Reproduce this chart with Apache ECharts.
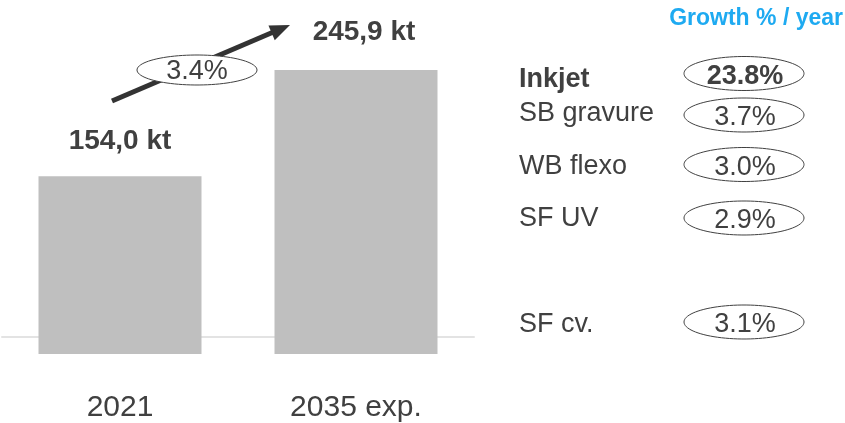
<!DOCTYPE html>
<html>
<head>
<meta charset="utf-8">
<script src="https://cdn.jsdelivr.net/npm/echarts@6/dist/echarts.min.js"></script>
<style>
  html, body { margin: 0; padding: 0; background: #fff; }
  #main { width: 845px; height: 423px; }
</style>
</head>
<body>
<div id="main"></div>
<script>
// data
var years = ['2021', '2035 exp.'];
var volumes = [154.0, 245.9];          // kt
var cagrTotal = 3.4;                   // % per year, 2021 -> 2035
var segments = ['Inkjet', 'SB gravure', 'WB flexo', 'SF UV', 'SF cv.'];
var growth = [23.8, 3.7, 3.0, 2.9, 3.1];
var highlight = [true, false, false, false, false];

// layout of the right hand panel
var labelY = [80, 114, 167, 219, 325];
var ovalY = [73.5, 115, 164.5, 218, 322];

var FONT = "'Liberation Sans', Arial, sans-serif";
var TXT = '#404040';

function fmtKt(v) {
    return v.toFixed(1).replace('.', ',') + ' kt';
}

// ellipse as polygon (graphic has no ellipse type)
function oval(cx, cy, rx, ry) {
    var pts = [];
    for (var i = 0; i < 90; i++) {
        var a = i / 90 * Math.PI * 2;
        pts.push([cx + rx * Math.cos(a), cy + ry * Math.sin(a)]);
    }
    return {
        type: 'polygon',
        shape: { points: pts },
        style: { fill: '#fff', stroke: TXT, lineWidth: 1 },
        z: 10
    };
}

function ovalText(cx, cy, str, bold) {
    return {
        type: 'text',
        x: cx, y: cy,
        style: {
            text: str,
            fill: TXT,
            font: (bold ? 'bold ' : '') + '27px ' + FONT,
            textAlign: 'center',
            textVerticalAlign: 'middle'
        },
        z: 11
    };
}

var myChart = echarts.init(document.getElementById('main'));

var graphics = [];

// arrow between the bars
var p0 = [112, 101], tip = [290, 25];
var dx = tip[0] - p0[0], dy = tip[1] - p0[1];
var len = Math.sqrt(dx * dx + dy * dy);
var ux = dx / len, uy = dy / len;
var bx = tip[0] - 20 * ux, by = tip[1] - 20 * uy;
graphics.push({
    type: 'line',
    shape: { x1: p0[0], y1: p0[1], x2: bx + 2 * ux, y2: by + 2 * uy },
    style: { stroke: '#333', lineWidth: 5 },
    z: 5
});
graphics.push({
    type: 'polygon',
    shape: { points: [tip, [bx - 8 * uy, by + 8 * ux], [bx + 8 * uy, by - 8 * ux]] },
    style: { fill: '#333' },
    z: 5
});
graphics.push(oval(197, 70, 60, 15));
graphics.push(ovalText(197, 72, cagrTotal.toFixed(1) + '%', false));

// right panel
graphics.push({
    type: 'text',
    right: 2, top: 7,
    style: {
        text: 'Growth % / year',
        fill: '#1eaaf1',
        font: 'bold 23px ' + FONT
    }
});
for (var i = 0; i < segments.length; i++) {
    graphics.push({
        type: 'text',
        x: 519, y: labelY[i],
        style: {
            text: segments[i],
            fill: TXT,
            font: (highlight[i] ? 'bold ' : '') + '27px ' + FONT,
            textVerticalAlign: 'middle'
        }
    });
    graphics.push(oval(744, ovalY[i], 60, 17));
    graphics.push(ovalText(745, ovalY[i] + 3, growth[i].toFixed(1) + '%', highlight[i]));
}

var option = {
    animation: false,
    textStyle: { fontFamily: FONT },
    grid: { left: 2, right: 371, top: 70, bottom: 69 },
    xAxis: {
        type: 'category',
        data: years,
        offset: -17,
        axisLine: { lineStyle: { color: '#e3e3e3', width: 2 } },
        axisTick: { show: false },
        axisLabel: { margin: 56, fontSize: 30, color: TXT, fontFamily: FONT }
    },
    yAxis: {
        type: 'value',
        min: 0,
        max: volumes[1],
        show: false,
        splitLine: { show: false }
    },
    series: [{
        type: 'bar',
        barWidth: 163,
        itemStyle: { color: '#bfbfbf' },
        label: {
            show: true,
            position: 'top',
            fontSize: 28,
            fontWeight: 'bold',
            color: TXT,
            fontFamily: FONT,
            formatter: function (p) { return fmtKt(p.value); }
        },
        data: [
            { value: volumes[0], label: { distance: 21 } },
            { value: volumes[1], label: { distance: 24, offset: [8, 0] } }
        ]
    }],
    graphic: graphics
};

myChart.setOption(option);
</script>
</body>
</html>
